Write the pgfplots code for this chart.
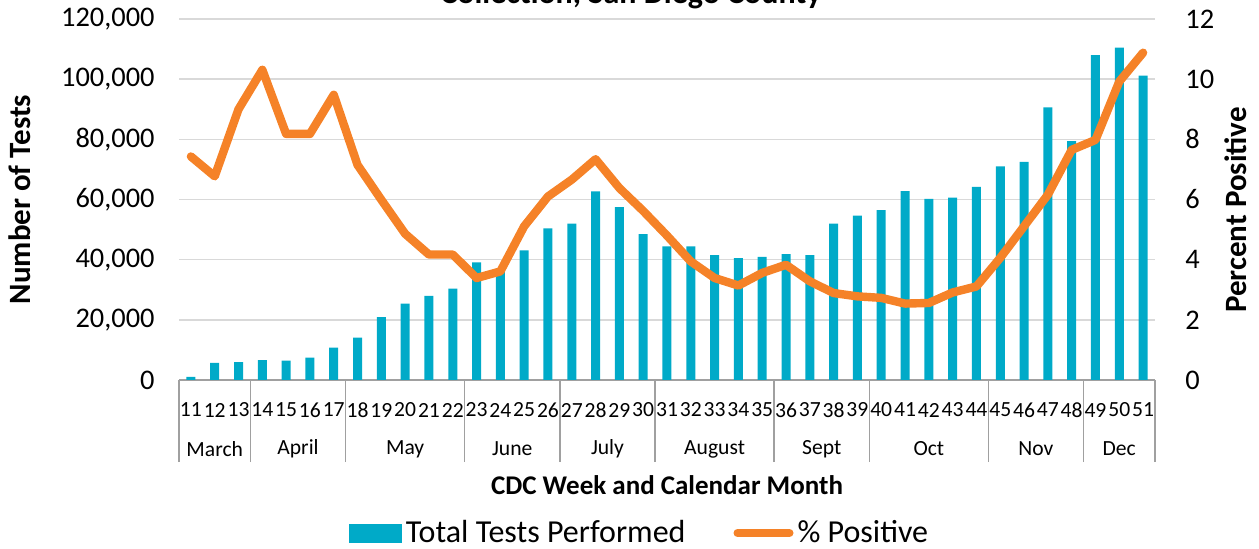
\documentclass[border=0pt]{standalone}
\usepackage{fontspec}
\setmainfont{Carlito}
\usepackage{pgfplots}
\pgfplotsset{compat=1.18}
\usepackage{pgfplotstable}
\definecolor{barcol}{RGB}{0,170,200}
\definecolor{linecol}{RGB}{245,130,40}
\definecolor{gridcol}{RGB}{217,217,217}
\definecolor{sepcol}{RGB}{160,160,160}
\newcommand{\bigf}{\fontsize{15.5}{18}\selectfont}
\newcommand{\tickf}{\fontsize{14.2}{17}\selectfont}
\newcommand{\legf}{\fontsize{16}{19}\selectfont}
\newcommand{\smallf}{\fontsize{10.8}{12}\selectfont}

\pgfplotstableread{
week tests pct
11 1000 7.43
12 5700 6.77
13 5900 9.00
14 6600 10.31
15 6400 8.18
16 7400 8.18
17 10800 9.48
18 14100 7.15
19 20900 5.99
20 25400 4.86
21 28000 4.17
22 30400 4.17
23 39100 3.39
24 37200 3.61
25 43100 5.11
26 50400 6.10
27 52000 6.66
28 62700 7.34
29 57500 6.38
30 48500 5.62
31 44400 4.80
32 44400 3.94
33 41500 3.39
34 40500 3.14
35 40900 3.56
36 41800 3.83
37 41500 3.28
38 52000 2.89
39 54600 2.78
40 56500 2.73
41 62800 2.54
42 60200 2.56
43 60600 2.91
44 64200 3.11
45 71000 4.06
46 72500 5.11
47 90600 6.16
48 79400 7.65
49 108000 7.98
50 110500 9.92
51 101200 10.88
}\datatable

\begin{document}
\begin{tikzpicture}
\useasboundingbox (0pt,0pt) rectangle (629.5pt,-274.5pt);
% title (upper part cropped as in reference)
\node[anchor=base, font=\fontsize{16}{19}\selectfont\bfseries] at (315.5pt,-2pt) {Collection, San Diego County};

\begin{axis}[
  at={(89.5pt,-190pt)}, anchor=south west,
  scale only axis, width=488pt, height=180.5pt,
  xmin=10.5, xmax=51.5, ymin=0, ymax=120000,
  clip=false,
  axis x line*=bottom, axis y line*=left,
  axis line style={-},
  x axis line style={draw=sepcol, line width=0.8pt},
  y axis line style={draw=none},
  ymajorgrids, grid style={gridcol, line width=0.8pt},
  major tick length=0pt,
  xtick={11,...,51},
  xticklabels={11,12,13,14,15,16,17,18,19,20,21,22,23,24,25,26,27,28,29,30,31,32,33,34,35,36,37,38,39,40,41,42,43,44,45,46,47,48,49,50,51},
  xticklabel style={font=\smallf, anchor=center, yshift=-15pt},
  extra x ticks={10.5,13.5,17.5,22.5,26.5,30.5,35.5,39.5,44.5,48.5,51.5},
  extra x tick labels={,,,,,,,,,,},
  extra x tick style={major tick length=41pt, tick align=outside, tick style={draw=sepcol, line width=0.8pt}, grid=none},
  ytick={0,20000,40000,60000,80000,100000,120000},
  yticklabels={0,{20,000},{40,000},{60,000},{80,000},{100,000},{120,000}},
  scaled y ticks=false,
  yticklabel style={font=\tickf, anchor=east, inner sep=0pt, xshift=-12pt},
  ylabel={Number of Tests},
  ylabel style={font=\bigf\bfseries, at={(axis description cs:-0.163,0.5)}, anchor=center},
  xlabel={CDC Week and Calendar Month},
  xlabel style={font=\fontsize{13.5}{16}\selectfont\bfseries, at={(axis description cs:0.5,-0.291)}, anchor=center},
]
\addplot[ybar, bar width=4.5pt, fill=barcol, draw=none] table[x=week, y=tests] {\datatable};
\node[font=\smallf, yshift=-34.5pt] at (axis cs:12,0) {March};
\node[font=\smallf, yshift=-34.5pt] at (axis cs:15.5,0) {April};
\node[font=\smallf, yshift=-34.5pt] at (axis cs:20,0) {May};
\node[font=\smallf, yshift=-34.5pt] at (axis cs:24.5,0) {June};
\node[font=\smallf, yshift=-34.5pt] at (axis cs:28.5,0) {July};
\node[font=\smallf, yshift=-34.5pt] at (axis cs:33,0) {August};
\node[font=\smallf, yshift=-34.5pt] at (axis cs:37.5,0) {Sept};
\node[font=\smallf, yshift=-34.5pt] at (axis cs:42,0) {Oct};
\node[font=\smallf, yshift=-34.5pt] at (axis cs:46.5,0) {Nov};
\node[font=\smallf, yshift=-34.5pt] at (axis cs:50,0) {Dec};
\end{axis}

\begin{axis}[
  at={(89.5pt,-190pt)}, anchor=south west,
  scale only axis, width=488pt, height=180.5pt,
  xmin=10.5, xmax=51.5, ymin=0, ymax=12,
  clip=false,
  axis x line=none, axis y line*=right,
  axis line style={-},
  y axis line style={draw=none},
  major tick length=0pt,
  ytick={0,2,4,6,8,10,12},
  yticklabels={0,2,4,6,8,10,12},
  scaled y ticks=false,
  yticklabel style={font=\tickf, anchor=west, inner sep=0pt, xshift=15pt},
  ylabel={Percent Positive},
  ylabel style={font=\bigf\bfseries, at={(axis description cs:1.083,0.471)}, anchor=center},
  legend style={draw=none, fill=none, at={(axis description cs:0.473,-0.424)}, anchor=center,
    legend columns=2, font=\legf, inner sep=0pt,
    /tikz/every even column/.append style={column sep=22pt}},
  legend cell align=left,
]
\addlegendimage{legend image code/.code={\fill[barcol] (0pt,-4.5pt) rectangle (26pt,4.5pt);}}
\addlegendentry{Total Tests Performed}
\addplot[linecol, line width=4.2pt, line join=round, line cap=round,
  legend image code/.code={\draw[linecol, line width=4pt, line cap=round] (1pt,0pt) -- (27pt,0pt);}]
  table[x=week, y=pct] {\datatable};
\addlegendentry{\% Positive}
\end{axis}
\end{tikzpicture}
\end{document}
